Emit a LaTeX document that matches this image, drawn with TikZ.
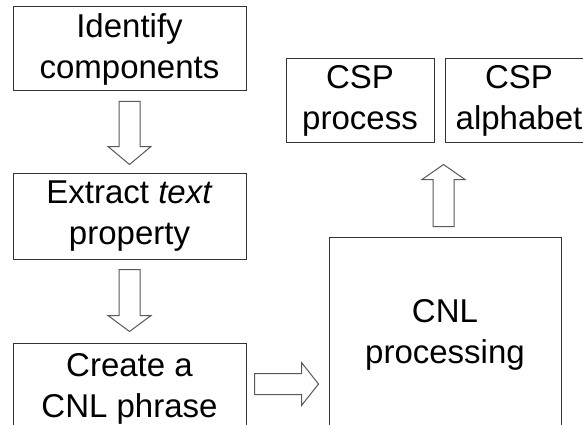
\documentclass[tikz,border=0pt]{standalone}
\usepackage{fontspec}
\setmainfont{Liberation Sans}
\usetikzlibrary{calc}

% Hollow block arrow from tail #1 to tip #2, head length #3
\newcommand\fatarrow[3]{%
  \coordinate (hb) at ($(#2)!#3!(#1)$);
  \draw[blockarrow]
    ($(#1)!10.5pt!90:(#2)$) -- ($(hb)!10.5pt!90:(#2)$) --
    ($(hb)!21.5pt!90:(#2)$) -- (#2) --
    ($(hb)!21.5pt!-90:(#2)$) -- ($(hb)!10.5pt!-90:(#2)$) --
    ($(#1)!10.5pt!-90:(#2)$) -- cycle;
}

\tikzset{
  stepbox/.style={draw=black!80, line width=1pt, fill=white, inner sep=0pt,
    align=center, font=\fontsize{33}{41}\selectfont},
  blockarrow/.style={draw=black!65, line width=1pt, fill=white, line join=miter}
}

\begin{document}
\begin{tikzpicture}[x=1pt, y=-1pt]
  \useasboundingbox (0,0) rectangle (583,425);
  \fill[white] (0,0) rectangle (583,425);
  \clip (0,0) rectangle (583,425);

  % left column of steps
  \node[stepbox, minimum width=233pt, minimum height=84pt] (ident) at (129.5,49)
    {Identify\\components};
  \node[stepbox, minimum width=233pt, minimum height=86pt] (extract) at (129.5,216)
    {Extract \textit{text}\\property};
  \node[stepbox, minimum width=233pt, minimum height=92pt] (create) at (129.5,389)
    {Create a\\CNL phrase};

  % processing and its outputs
  \node[stepbox, minimum width=232pt, minimum height=196pt] (cnl) at (445,335)
    {CNL\\processing};
  \node[stepbox, minimum width=148pt, minimum height=83pt] (cspp) at (360,100.5)
    {CSP\\process};
  \node[stepbox, minimum width=148pt, minimum height=83pt] (cspa) at (519,100.5)
    {CSP\\alphabet};

  % arrow end points
  \coordinate (a1s) at ([yshift=-10pt]ident.south);
  \coordinate (a1e) at ([yshift=8pt]extract.north);
  \coordinate (a2s) at ([yshift=-10pt]extract.south);
  \coordinate (a2e) at ([yshift=11pt]create.north);
  \coordinate (a3s) at ([xshift=8pt,yshift=5pt]create.east);
  \coordinate (a3e) at ([xshift=-10pt,yshift=5pt]cnl.west |- create.east);
  \coordinate (a4s) at ([xshift=-1.5pt,yshift=10pt]cnl.north);
  \coordinate (a4e) at ([yshift=-22pt]a4s |- cspp.south);

  \fatarrow{a1s}{a1e}{18pt}
  \fatarrow{a2s}{a2e}{16pt}
  \fatarrow{a3s}{a3e}{17pt}
  \fatarrow{a4s}{a4e}{15pt}
\end{tikzpicture}
\end{document}
